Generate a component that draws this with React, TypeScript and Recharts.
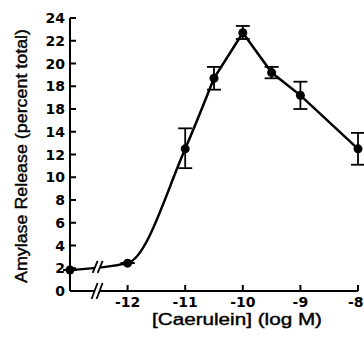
import * as React from "react";
import {
  ComposedChart,
  Line,
  Scatter,
  ErrorBar,
  XAxis,
  YAxis,
  ReferenceDot,
} from "recharts";

// log M of caerulein; -13 is the control (no hormone) point, shown across an axis break
const logDose = [-13, -12, -11, -10.5, -10, -9.5, -9, -8];
const release = [1.85, 2.45, 12.5, 18.7, 22.7, 19.2, 17.2, 12.5];
const errLow = [0, 0, 1.7, 1.0, 0.55, 0.5, 1.2, 1.4];
const errHigh = [0, 0, 1.8, 1.0, 0.6, 0.5, 1.2, 1.4];

const xTicks = [-12, -11, -10, -9, -8];
const yTicks = [0, 2, 4, 6, 8, 10, 12, 14, 16, 18, 20, 22, 24];
// the printed figure labels the 16 tick as "18"
const yTickLabels = ["0", "2", "4", "6", "8", "10", "12", "14", "18", "18", "20", "22", "24"];

const axisBreakX = -12.53;
const lineBreakX = -12.52;
const lineBreakY = 2.12;

const data = logDose.map((x, i) => ({
  x,
  y: release[i],
  curve: i <= 3 ? release[i] : null,
  straight: i >= 3 ? release[i] : null,
  err: [errLow[i], errHigh[i]],
}));

const FONT = "'DejaVu Sans', sans-serif";
const TITLE_FONT = "'Liberation Sans', Arial, sans-serif";

const YTick = (props: any) => {
  const { x, y, index } = props;
  const axisX = x + 5;
  return (
    <g>
      <line x1={axisX} y1={y} x2={axisX + 6} y2={y} stroke="#000" strokeWidth={2} />
      <text x={x} y={y} textAnchor="end" dominantBaseline="central" fontFamily={FONT} fontWeight="bold" fontSize={14} fill="#000">
        {yTickLabels[index]}
      </text>
    </g>
  );
};

const XTick = (props: any) => {
  const { x, y, payload, index, visibleTicksCount } = props;
  const axisY = y - 6;
  const last = index === visibleTicksCount - 1;
  return (
    <g>
      <line x1={x} y1={axisY} x2={x} y2={axisY - 6} stroke="#000" strokeWidth={2} />
      <text
        x={last ? x + 5.5 : x}
        y={y}
        dy="0.72em"
        textAnchor={last ? "end" : "middle"}
        fontFamily={FONT}
        fontWeight="bold"
        fontSize={14}
        fill="#000"
      >
        {payload.value}
      </text>
    </g>
  );
};

const breakMark = (h: number, w: number) => (props: any) => {
  const { cx, cy } = props;
  const a = cx - 2.5;
  const b = cx + 2.5;
  return (
    <g>
      <polygon
        points={`${a - w},${cy + h} ${a + w},${cy - h} ${b + w},${cy - h} ${b - w},${cy + h}`}
        fill="#fff"
      />
      <line x1={a - w} y1={cy + h} x2={a + w} y2={cy - h} stroke="#000" strokeWidth={1.8} />
      <line x1={b - w} y1={cy + h} x2={b + w} y2={cy - h} stroke="#000" strokeWidth={1.8} />
    </g>
  );
};

const YLabel = (props: any) => {
  const { viewBox } = props;
  const cx = viewBox.x + 21.5;
  const cy = viewBox.y + viewBox.height / 2 + 1.5;
  return (
    <text
      x={cx}
      y={cy}
      transform={`rotate(-90 ${cx} ${cy})`}
      textAnchor="middle"
      dominantBaseline="central"
      fontFamily={TITLE_FONT}
      fontSize={16}
      textLength={254}
      lengthAdjust="spacingAndGlyphs"
      fill="#000"
      stroke="#000"
      strokeWidth={0.4}
    >
      Amylase Release (percent total)
    </text>
  );
};

const XLabel = (props: any) => {
  const { viewBox } = props;
  const cx = viewBox.x + viewBox.width / 2 + 23;
  const cy = viewBox.y + 28;
  return (
    <text
      x={cx}
      y={cy}
      textAnchor="middle"
      dominantBaseline="central"
      fontFamily={TITLE_FONT}
      fontSize={16}
      textLength={170}
      lengthAdjust="spacingAndGlyphs"
      fill="#000"
      stroke="#000"
      strokeWidth={0.4}
    >
      [Caerulein] (log M)
    </text>
  );
};

export default function App() {
  return (
    <div style={{ position: "absolute", left: 0, top: 0, background: "#fff" }}>
      <ComposedChart width={364} height={339} data={data} margin={{ top: 18, right: 6, bottom: 0, left: 0 }}>
        <XAxis
          type="number"
          dataKey="x"
          domain={[-13, -8]}
          ticks={xTicks}
          tickSize={0}
          tickMargin={6}
          tickLine={false}
          axisLine={{ stroke: "#000", strokeWidth: 2 }}
          tick={<XTick />}
          height={48}
          interval={0}
          label={<XLabel />}
        />
        <YAxis
          type="number"
          domain={[0, 24]}
          ticks={yTicks}
          tickSize={0}
          tickMargin={5}
          tickLine={false}
          axisLine={{ stroke: "#000", strokeWidth: 2 }}
          tick={<YTick />}
          width={70}
          interval={0}
          label={<YLabel />}
        />
        <Line
          type="monotone"
          dataKey="curve"
          stroke="#000"
          strokeWidth={2.5}
          dot={false}
          activeDot={false}
          isAnimationActive={false}
        />
        <Line
          type="linear"
          dataKey="straight"
          stroke="#000"
          strokeWidth={2.5}
          dot={false}
          activeDot={false}
          isAnimationActive={false}
        />
        <ReferenceDot x={axisBreakX} y={0} ifOverflow="visible" shape={breakMark(8, 3)} />
        <ReferenceDot x={lineBreakX} y={lineBreakY} ifOverflow="visible" shape={breakMark(6, 2.5)} />
        <Scatter
          dataKey="y"
          isAnimationActive={false}
          shape={(p: any) => <circle cx={p.cx} cy={p.cy} r={4.5} fill="#000" />}
        >
          <ErrorBar dataKey="err" direction="y" width={7} stroke="#000" strokeWidth={1.8} isAnimationActive={false} />
        </Scatter>
      </ComposedChart>
    </div>
  );
}
